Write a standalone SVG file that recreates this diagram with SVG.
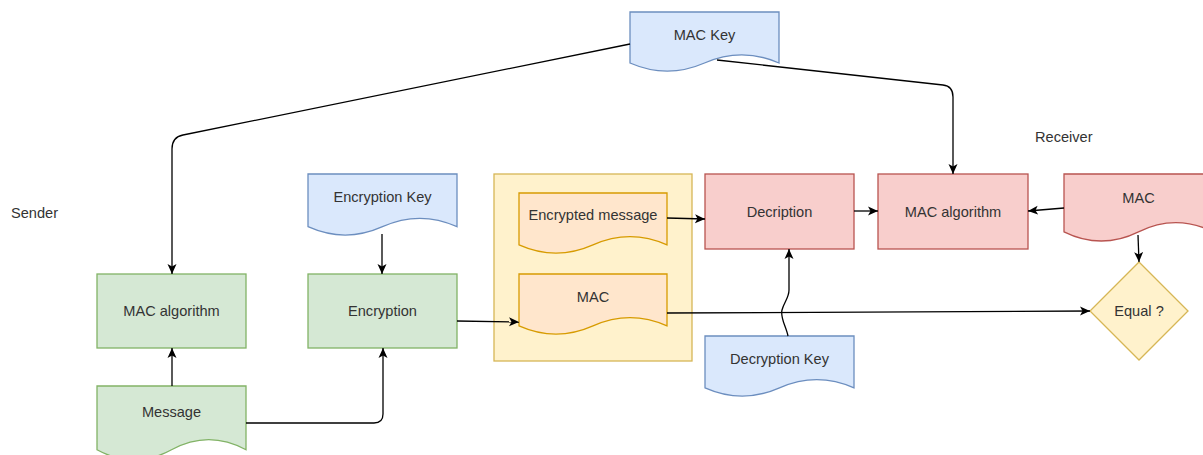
<svg xmlns="http://www.w3.org/2000/svg" width="1203" height="455" viewBox="0 0 1203 455">
<defs>
<marker id="arr" viewBox="0 0 10 10" refX="10" refY="5" markerWidth="10" markerHeight="10" markerUnits="userSpaceOnUse" orient="auto">
<path d="M0,0.5 L10,5 L0,9.5 L2.5,5 Z" fill="#000"/>
</marker>
</defs>
<style>
text{font-family:"Liberation Sans",Arial,sans-serif;font-size:14.6px;fill:#333;text-anchor:middle;dominant-baseline:central}
.plain{text-anchor:start}
.green{fill:#d5e8d4;stroke:#82b366;stroke-width:1.3}
.blue{fill:#dae8fc;stroke:#6c8ebf;stroke-width:1.3}
.orange{fill:#ffe6cc;stroke:#d79b00;stroke-width:1.3}
.yellow{fill:#fff2cc;stroke:#d6b656;stroke-width:1.3}
.red{fill:#f8cecc;stroke:#b85450;stroke-width:1.3}
.edge{fill:none;stroke:#000;stroke-width:1.3;marker-end:url(#arr)}
</style>
<rect width="1203" height="455" fill="#fff"/>

<g id="container">
<rect class="yellow" x="494" y="174" width="198" height="187"/>
</g>

<g id="sender-label"><text class="plain" x="11" y="213">Sender</text></g>
<g id="receiver-label"><text class="plain" x="1035" y="137">Receiver</text></g>

<g id="mac-key">
<path class="blue" d="M630,12 H779 V63 Q741.75,46.8 704.5,63 Q667.25,79.2 630,63 Z"/>
<text x="704.5" y="35">MAC Key</text>
</g>

<g id="mac-algorithm-sender">
<rect class="green" x="97" y="274" width="149" height="74"/>
<text x="171.5" y="311">MAC algorithm</text>
</g>

<g id="message">
<path class="green" d="M97,386 H246 V449.75 Q208.75,429.5 171.5,449.75 Q134.25,470 97,449.75 Z"/>
<text x="171.5" y="412">Message</text>
</g>

<g id="encryption-key">
<path class="blue" d="M308,174 H457 V226.7 Q419.75,210 382.5,226.7 Q345.25,243.4 308,226.7 Z"/>
<text x="382.5" y="197">Encryption Key</text>
</g>

<g id="encryption">
<rect class="green" x="308" y="274" width="149" height="74"/>
<text x="382.5" y="311">Encryption</text>
</g>

<g id="encrypted-message">
<path class="orange" d="M519,193 H667 V244.85 Q630,228.4 593,244.85 Q556,261.3 519,244.85 Z"/>
<text x="593" y="215">Encrypted message</text>
</g>

<g id="mac-sent">
<path class="orange" d="M519,274 H667 V325.85 Q630,309.4 593,325.85 Q556,342.3 519,325.85 Z"/>
<text x="593" y="297">MAC</text>
</g>

<g id="decription">
<rect class="red" x="705" y="174" width="149" height="75"/>
<text x="779.5" y="211.5">Decription</text>
</g>

<g id="decryption-key">
<path class="blue" d="M705,336 H854 V387.85 Q816.75,371.4 779.5,387.85 Q742.25,404.3 705,387.85 Z"/>
<text x="779.5" y="359">Decryption Key</text>
</g>

<g id="mac-algorithm-receiver">
<rect class="red" x="878" y="174" width="150" height="75"/>
<text x="953" y="211.5">MAC algorithm</text>
</g>

<g id="mac-received">
<path class="red" d="M1064,174 H1213 V231.8 Q1175.75,213.4 1138.5,231.8 Q1101.25,250.2 1064,231.8 Z"/>
<text x="1138.5" y="198">MAC</text>
</g>

<g id="equal">
<path class="yellow" d="M1139,262 L1188,311 L1139,360 L1090,311 Z"/>
<text x="1139" y="311">Equal ?</text>
</g>

<g id="connectors">
<path class="edge" d="M630,44 L183,135 Q172,137 172,149 L172,274"/>
<path class="edge" d="M717,60 L943,85 Q953,86 953,97 L953,174"/>
<path class="edge" d="M382,234 L382,274"/>
<path class="edge" d="M172,386 L172,348"/>
<path class="edge" d="M246,423 L374,423 Q383,423 383,414 L383,348"/>
<path class="edge" d="M457,321 L519,322"/>
<path class="edge" d="M667,218 L705,219"/>
<path class="edge" d="M667,313 L1090,311"/>
<path class="edge" d="M788,336 C786,326 780,318 782,310 C784,302 789,298 789,290 L789,249"/>
<path class="edge" d="M854,211 L878,211"/>
<path class="edge" d="M1064,208 L1028,211"/>
<path class="edge" d="M1138,235 L1139,262"/>
</g>
</svg>
